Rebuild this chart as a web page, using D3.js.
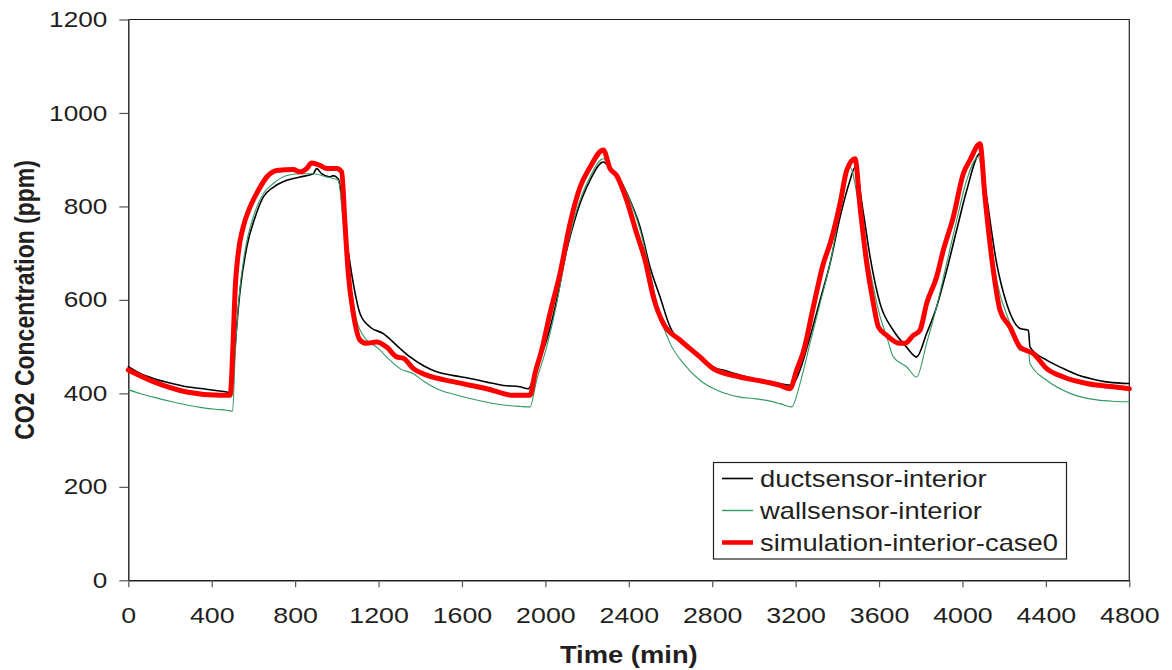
<!DOCTYPE html>
<html>
<head>
<meta charset="utf-8">
<script src="https://cdn.jsdelivr.net/npm/d3@7"></script>
<style>
  html, body { margin: 0; padding: 0; background: #fff; }
  svg { display: block; }
  text { font-family: "Liberation Sans", Arial, sans-serif; fill: #231f20; }
</style>
</head>
<body>
<svg id="chart" width="1172" height="670"></svg>
<script>
// Tick labels
const xTicks = [0, 400, 800, 1200, 1600, 2000, 2400, 2800, 3200, 3600, 4000, 4400, 4800];
const yTicks = [0, 200, 400, 600, 800, 1000, 1200];

// Series names
const seriesNames = ["ductsensor-interior", "wallsensor-interior", "simulation-interior-case0"];

// [time (min), CO2 (ppm)]
const ductSensor = [
  [0,457],[60,442],[120,432],[200,422],[280,414],[360,410],[420,406],[472,403],[496,400],
  [512,499],[536,620],[568,713],[608,777],[647,820],[695,841],[760,856],[823,863],[887,870],
  [903,881],[927,870],[967,863],[983,866],[1007,859],[1047,727],[1079,635],[1111,571],[1159,542],
  [1223,528],[1303,496],[1351,478],[1420,458],[1479,446],[1560,438],[1639,432],[1720,424],[1798,417],
  [1878,414],[1918,410],[1958,457],[2006,514],[2054,599],[2102,706],[2150,785],[2214,856],
  [2278,895],[2310,881],[2358,856],[2406,813],[2454,756],[2502,670],[2550,606],[2598,542],
  [2670,505],[2741,478],[2821,453],[2853,450],[2880,446],[2933,439],[3000,431],[3061,425],[3120,421],
  [3181,417],[3221,450],[3269,521],[3317,599],[3365,678],[3413,777],[3461,856],[3485,884],
  [3525,785],[3557,692],[3605,592],[3668,535],[3732,499],[3780,478],[3828,528],[3876,585],
  [3924,663],[3972,749],[4020,834],[4084,913],[4116,820],[4164,678],[4212,592],[4276,539],
  [4316,535],[4324,499],[4404,471],[4484,453],[4550,440],[4612,432],[4700,424],[4800,421]
];

const wallSensor = [
  [0,408],[60,399],[120,392],[200,383],[280,375],[360,369],[420,366],[472,364],[500,362],
  [512,478],[527,585],[560,706],[599,777],[647,827],[695,849],[760,866],[823,870],[887,870],
  [951,863],[1007,856],[1031,763],[1063,642],[1095,556],[1143,514],[1191,499],[1255,471],
  [1303,453],[1367,442],[1420,425],[1479,410],[1560,398],[1639,389],[1720,381],[1798,375],
  [1880,372],[1926,371],[1958,428],[2006,499],[2054,592],[2102,706],[2150,792],[2214,863],
  [2278,902],[2310,881],[2358,856],[2406,813],[2454,750],[2502,660],[2550,564],[2598,507],
  [2662,464],[2741,428],[2821,407],[2933,392],[3000,389],[3061,385],[3125,378],[3181,371],
  [3221,421],[3269,507],[3317,592],[3365,678],[3413,792],[3461,884],[3509,785],[3557,663],
  [3605,564],[3637,521],[3668,478],[3732,457],[3780,435],[3828,507],[3876,585],[3924,678],
  [3972,770],[4020,856],[4076,906],[4116,785],[4164,642],[4228,549],[4276,492],[4316,492],
  [4324,464],[4404,428],[4516,400],[4644,386],[4720,383],[4800,382]
];

const simulation = [
  [0,450],[120,425],[280,403],[440,396],[488,396],[503,514],[512,620],[527,699],[551,756],
  [584,799],[623,834],[664,863],[712,877],[791,879],[823,874],[855,881],[879,893],[919,888],
  [951,881],[999,881],[1023,874],[1039,763],[1055,656],[1079,571],[1111,514],[1143,507],
  [1191,510],[1239,499],[1287,478],[1319,475],[1367,453],[1431,439],[1558,425],[1719,410],
  [1846,396],[1926,396],[1950,442],[1982,492],[2022,571],[2070,656],[2118,763],[2166,841],
  [2214,884],[2278,921],[2310,881],[2342,866],[2390,813],[2438,742],[2478,685],[2518,606],
  [2566,549],[2646,514],[2741,478],[2805,453],[2933,435],[3061,424],[3125,417],[3173,410],
  [3205,450],[3237,489],[3285,585],[3333,678],[3365,720],[3413,806],[3445,877],[3485,902],
  [3509,799],[3541,678],[3573,592],[3597,542],[3637,524],[3700,507],[3724,507],[3764,524],
  [3796,535],[3828,592],[3876,649],[3908,706],[3956,777],[4004,870],[4036,899],[4084,934],
  [4108,820],[4148,663],[4180,578],[4228,542],[4276,499],[4340,485],[4404,453],[4484,435],
  [4596,421],[4723,414],[4800,410]
];

const plot = { left: 128.3, right: 1129.3, top: 19.5, bottom: 580.3 };
const SX = 1.19; // horizontal text stretch

const svg = d3.select("#chart");

const x = d3.scaleLinear().domain([0, 4800]).range([plot.left, plot.right]);
const y = d3.scaleLinear().domain([0, 1200]).range([plot.bottom, plot.top]);
const fmt = d3.format("d");

function stretchText(sel) {
  sel.each(function () {
    const tx = +(this.getAttribute("x") || 0);
    this.setAttribute("x", tx / SX);
    this.setAttribute("transform", `scale(${SX},1)`);
  });
}

// Plot frame (top and right edges)
svg.append("path")
  .attr("d", `M${plot.left},${plot.top}H${plot.right}V${plot.bottom}`)
  .attr("fill", "none").attr("stroke", "#231f20").attr("stroke-width", 1.2);

// Y axis
const gy = svg.append("g")
  .attr("transform", `translate(${plot.left},0)`)
  .call(d3.axisLeft(y).tickValues(yTicks).tickFormat(fmt).tickSize(9).tickSizeOuter(0).tickPadding(12));
gy.select(".domain").attr("stroke", "#231f20").attr("stroke-width", 1.4);
gy.selectAll(".tick line").attr("stroke", "#555").attr("stroke-width", 1.2);
gy.selectAll(".tick text").attr("font-size", 22).attr("font-family", null).call(stretchText);

// X axis
const gx = svg.append("g")
  .attr("transform", `translate(0,${plot.bottom})`)
  .call(d3.axisBottom(x).tickValues(xTicks).tickFormat(fmt).tickSize(7).tickSizeOuter(0).tickPadding(20));
gx.select(".domain").attr("stroke", "#231f20").attr("stroke-width", 1.4);
gx.selectAll(".tick line").attr("stroke", "#555").attr("stroke-width", 1.2);
gx.selectAll(".tick text").attr("font-size", 22.5).attr("font-family", null).call(stretchText);

// Axis titles
svg.append("text")
  .attr("transform", `translate(${(plot.left + plot.right) / 2},663) scale(${SX},1)`)
  .attr("text-anchor", "middle").attr("font-size", 23).attr("font-weight", "bold")
  .text("Time (min)");
svg.append("text")
  .attr("transform", `translate(34,${(plot.top + plot.bottom) / 2}) scale(${SX},1) rotate(-90)`)
  .attr("text-anchor", "middle").attr("font-size", 23).attr("font-weight", "bold")
  .text("CO2 Concentration (ppm)");

// Lines
const line = d3.line().curve(d3.curveMonotoneX).x(d => x(d[0])).y(d => y(d[1]));
const styles = [
  { data: ductSensor, color: "#000000", width: 1.6 },
  { data: wallSensor, color: "#339966", width: 1.1 },
  { data: simulation, color: "#ff0000", width: 5 }
];
svg.append("g").selectAll("path")
  .data(styles)
  .join("path")
  .attr("d", d => line(d.data))
  .attr("fill", "none")
  .attr("stroke", d => d.color)
  .attr("stroke-width", d => d.width)
  .attr("stroke-linejoin", "round")
  .attr("stroke-linecap", "round");

// Legend
const lg = svg.append("g");
lg.append("rect")
  .attr("x", 713.5).attr("y", 462.5).attr("width", 353).attr("height", 96.5)
  .attr("fill", "#fff").attr("stroke", "#231f20").attr("stroke-width", 1.2);
styles.forEach((s, i) => {
  const cy = 478.5 + i * 32;
  lg.append("line")
    .attr("x1", 722).attr("x2", 753).attr("y1", cy).attr("y2", cy)
    .attr("stroke", s.color).attr("stroke-width", i === 2 ? 4.5 : (i === 1 ? 1.4 : 1.6));
  lg.append("text")
    .attr("transform", `translate(760,${cy + 8}) scale(${SX},1)`)
    .attr("font-size", 23)
    .text(seriesNames[i]);
});
</script>
</body>
</html>
